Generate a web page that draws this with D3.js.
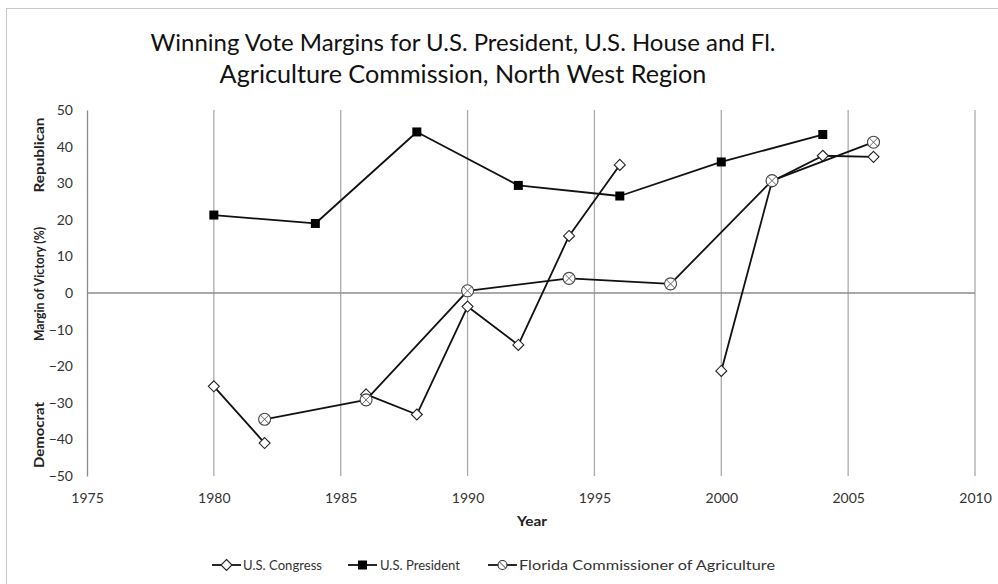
<!DOCTYPE html>
<html>
<head>
<meta charset="utf-8">
<script src="https://cdn.jsdelivr.net/npm/d3@7"></script>
<style>
  html, body { margin: 0; padding: 0; background: #fff; }
  svg { display: block; }
  text { font-family: Lato, "Open Sans", "DejaVu Sans", sans-serif; fill: #222; }
</style>
</head>
<body>
<svg id="chart" width="998" height="584"></svg>
<script>
// ---- data ----
const titleLines = [
  "Winning Vote Margins for U.S. President, U.S. House and Fl.",
  "Agriculture Commission, North West Region"
];
const xTicks = [1975, 1980, 1985, 1990, 1995, 2000, 2005, 2010];
const yTicks = [-50, -40, -30, -20, -10, 0, 10, 20, 30, 40, 50];

// U.S. Congress (null = no race that year, line breaks)
const congressYears = [1980, 1982, 1984, 1986, 1988, 1990, 1992, 1994, 1996, 1998, 2000, 2002, 2004, 2006];
const congressMargin = [-25.5, -41, null, -27.7, -33.2, -3.7, -14.2, 15.6, 35, null, -21.3, 30.5, 37.5, 37.2];

// U.S. President
const presidentYears = [1980, 1984, 1988, 1992, 1996, 2000, 2004];
const presidentMargin = [21.3, 19, 44, 29.4, 26.5, 35.8, 43.3];

// Florida Commissioner of Agriculture
const floridaYears = [1982, 1986, 1990, 1994, 1998, 2002, 2006];
const floridaMargin = [-34.5, -29.2, 0.6, 4.0, 2.5, 30.7, 41.2];

const seriesNames = ["U.S. Congress", "U.S. President", "Florida Commissioner of Agriculture"];

// ---- layout ----
const svg = d3.select("#chart");
const W = 998, H = 584;
const plot = { left: 87, right: 975, top: 110, bottom: 476 };

const x = d3.scaleLinear().domain([1975, 2010]).range([plot.left, plot.right]);
const y = d3.scaleLinear().domain([-50, 50]).range([plot.bottom, plot.top]);

// outer frame
svg.append("rect")
  .attr("x", 6.5).attr("y", 8.5)
  .attr("width", W).attr("height", H)
  .attr("fill", "#fff").attr("stroke", "#c8c8c8").attr("stroke-width", 1);

// font size that makes a text element span the given width
function fitSize(sel, target) {
  const fs = parseFloat(sel.attr("font-size"));
  const w = sel.node().getComputedTextLength();
  return w > 0 ? fs * target / w : fs;
}

// title
const titleY = [51, 83];
const titleW = [625, 487];
titleLines.forEach((t, i) => {
  const el = svg.append("text")
    .attr("x", 463).attr("y", titleY[i])
    .attr("text-anchor", "middle")
    .attr("font-size", 24)
    .style("fill", "#111")
    .text(t);
  el.attr("font-size", fitSize(el, titleW[i]).toFixed(2));
});

// vertical gridlines
svg.append("g")
  .selectAll("line")
  .data(xTicks.slice(1))
  .join("line")
  .attr("x1", d => x(d)).attr("x2", d => x(d))
  .attr("y1", plot.top).attr("y2", plot.bottom)
  .attr("stroke", "#ababab").attr("stroke-width", 1.3);

// y axis (no tick marks)
const yAxis = d3.axisLeft(y).tickValues(yTicks).tickSize(0).tickPadding(14);
const gy = svg.append("g").attr("transform", `translate(${plot.left},0)`).call(yAxis);
gy.select(".domain").attr("stroke", "#8c8c8c").attr("stroke-width", 1.3);
gy.selectAll("text")
  .attr("font-size", 14)
  .style("font-family", "Lato, 'Open Sans', sans-serif")
  .style("fill", "#333");

// x axis line at zero, labels along the bottom
svg.append("line")
  .attr("x1", plot.left).attr("x2", plot.right)
  .attr("y1", y(0)).attr("y2", y(0))
  .attr("stroke", "#8c8c8c").attr("stroke-width", 1.3);

const xAxis = d3.axisBottom(x).tickValues(xTicks).tickFormat(d3.format("d")).tickSize(0).tickPadding(17);
const gx = svg.append("g").attr("transform", `translate(0,${plot.bottom})`).call(xAxis);
gx.select(".domain").remove();
gx.selectAll("text")
  .attr("font-size", 14)
  .style("font-family", "Lato, 'Open Sans', sans-serif")
  .style("fill", "#333");

// axis titles (condensed to the set widths)
svg.append("text")
  .attr("x", 517).attr("y", 526)
  .attr("font-size", 14).attr("font-weight", "bold")
  .attr("textLength", 30).attr("lengthAdjust", "spacingAndGlyphs")
  .text("Year");

const yTitleX = 44;
const yTitles = [["Margin of Victory (%)", 284, 114], ["Republican", 155, 75], ["Democrat", 435, 66]];
yTitles.forEach(([t, cy, len]) => {
  svg.append("text")
    .attr("transform", `translate(${yTitleX},${cy}) rotate(-90)`)
    .attr("x", -len / 2)
    .attr("font-size", 13.5).attr("font-weight", "bold")
    .attr("textLength", len).attr("lengthAdjust", "spacingAndGlyphs")
    .text(t);
});

// ---- series ----
const line = d3.line()
  .defined(d => d.v !== null)
  .x(d => x(d.yr))
  .y(d => y(d.v));

function zipSeries(years, vals) {
  return years.map((yr, i) => ({ yr, v: vals[i] }));
}

const congress = zipSeries(congressYears, congressMargin);
const president = zipSeries(presidentYears, presidentMargin);
const florida = zipSeries(floridaYears, floridaMargin);

// marker drawers
function diamond(g, cx, cy) {
  const s = 5.5;
  g.append("path")
    .attr("d", `M${cx},${cy - s}L${cx + s},${cy}L${cx},${cy + s}L${cx - s},${cy}Z`)
    .attr("fill", "#fff").attr("stroke", "#222").attr("stroke-width", 1.1);
}
function square(g, cx, cy) {
  const s = 4.5;
  g.append("rect")
    .attr("x", cx - s).attr("y", cy - s)
    .attr("width", 2 * s).attr("height", 2 * s)
    .attr("fill", "#000");
}
function crossCircle(g, cx, cy) {
  const r = 6;
  g.append("circle")
    .attr("cx", cx).attr("cy", cy).attr("r", r)
    .attr("fill", "#fff").attr("stroke", "#444").attr("stroke-width", 1.1);
  const k = r * 0.7;
  g.append("path")
    .attr("d", `M${cx - k},${cy - k}L${cx + k},${cy + k}M${cx + k},${cy - k}L${cx - k},${cy + k}`)
    .attr("stroke", "#555").attr("stroke-width", 0.9);
}

const series = [
  { data: congress, marker: diamond },
  { data: president, marker: square },
  { data: florida, marker: crossCircle }
];

series.forEach(s => {
  const g = svg.append("g");
  g.append("path")
    .attr("d", line(s.data))
    .attr("fill", "none")
    .attr("stroke", "#111")
    .attr("stroke-width", 1.8)
    .attr("stroke-linejoin", "round");
  s.data.filter(d => d.v !== null).forEach(d => s.marker(g, x(d.yr), y(d.v)));
});

// ---- legend ----
const legendY = 565;
const legendItems = [
  { x0: 212, marker: diamond, textX: 243, len: 79 },
  { x0: 348, marker: square, textX: 380, len: 80 },
  { x0: 488, marker: crossCircle, textX: 519, len: 256 }
];
legendItems.forEach((it, i) => {
  svg.append("line")
    .attr("x1", it.x0).attr("x2", it.x0 + 29)
    .attr("y1", legendY).attr("y2", legendY)
    .attr("stroke", "#111").attr("stroke-width", 1.8);
  const m = svg.append("g");
  if (i === 2) {
    // smaller legend glyph for the circle marker
    const cx = it.x0 + 14.5, r = 4.5;
    m.append("circle").attr("cx", cx).attr("cy", legendY).attr("r", r)
      .attr("fill", "#fff").attr("stroke", "#333").attr("stroke-width", 1.1);
    m.append("path")
      .attr("d", `M${cx - 3},${legendY - 3}L${cx + 3},${legendY + 3}`)
      .attr("stroke", "#333").attr("stroke-width", 1);
  } else {
    it.marker(m, it.x0 + 14.5, legendY);
  }
  svg.append("text")
    .attr("x", it.textX).attr("y", legendY)
    .attr("dy", "0.36em")
    .attr("font-size", 13)
    .attr("textLength", it.len).attr("lengthAdjust", "spacingAndGlyphs")
    .style("fill", "#333")
    .text(seriesNames[i]);
});
</script>
</body>
</html>
